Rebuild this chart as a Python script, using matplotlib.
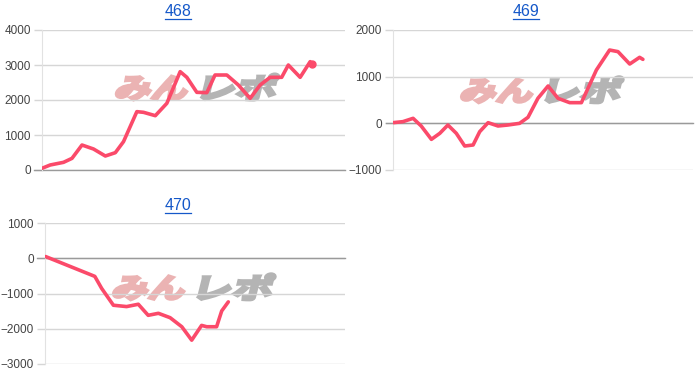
#!/usr/bin/env python3
"""
Slot data charts (468 / 469 / 470) - difference per game, three panels.
"""

import matplotlib
matplotlib.use('Agg')
import matplotlib.pyplot as plt
import matplotlib.transforms as mtransforms
from matplotlib.textpath import TextPath
from matplotlib.patches import PathPatch
from matplotlib.font_manager import FontProperties
from matplotlib.lines import Line2D

plt.rcParams['font.family'] = ['Liberation Sans', 'DejaVu Sans']

# Machine numbers (panel titles)
titles = ['468', '469', '470']

# Progress along the x axis (0..100 = full axis width)
x_468 = [0, 2.7, 7.1, 9.9, 13.2, 17.0, 20.9, 24.2, 26.9, 31.3, 33.5, 37.4, 41.2,
         45.6, 47.8, 51.1, 54.4, 57.1, 61.0, 64.8, 68.7, 72.0, 75.3, 79.1, 81.3,
         85.2, 88.5, 89.0]
y_468 = [48, 143, 219, 333, 714, 600, 400, 495, 810, 1667, 1648, 1552, 1905,
         2810, 2648, 2219, 2210, 2714, 2714, 2429, 2048, 2429, 2648, 2648, 3000,
         2648, 3095, 3040]

x_469 = [0, 3.3, 6.7, 9.4, 12.8, 15.6, 18.3, 21.1, 23.9, 26.7, 28.9, 31.7, 35.0,
         38.3, 42.2, 45.0, 48.3, 51.7, 55.0, 58.9, 62.8, 67.8, 72.2, 75.0, 78.9,
         82.2, 83.3]
y_469 = [14, 36, 107, -57, -343, -214, -36, -214, -486, -464, -179, 14, -57,
         -36, 0, 129, 536, 800, 536, 443, 443, 1143, 1571, 1536, 1271,
         1414, 1371]

x_470 = [0.2, 16.6, 18.9, 22.8, 27.2, 31.1, 34.4, 37.8, 41.7, 45.6, 48.9, 52.2,
         53.9, 57.2, 58.9, 61.1]
y_470 = [48, -514, -857, -1333, -1371, -1305, -1619, -1562, -1686, -1943, -2324,
         -1905, -1943, -1943, -1495, -1238]

yticks_468 = [0, 1000, 2000, 3000, 4000]
yticks_469 = [-1000, 0, 1000, 2000]
yticks_470 = [-3000, -2000, -1000, 0, 1000]

colors = {
    'line': '#fb4a6a',
    'grid': '#d6d6d6',
    'zero': '#9a9a9a',
    'axis': '#e2e2e2',
    'text': '#444444',
    'title': '#1558c9',
    'wm_pink': '#ebb3b3',
    'wm_gray': '#b4b4b4',
}

W, H = 700, 388
fig = plt.figure(figsize=(W / 100, H / 100), dpi=100, facecolor='white')


def px_axes(left, top, right, bottom):
    """Axes from pixel edges (top-left origin)."""
    return fig.add_axes([left / W, 1 - bottom / H, (right - left) / W, (bottom - top) / H])


def watermark(ax, left, bottom):
    """'みんレポ' logo behind the line, skewed like the original."""
    prop = FontProperties(family='Noto Sans CJK JP', weight='bold')
    parts = [('みん', colors['wm_pink'], left, 70, 24),
             ('レポ', colors['wm_gray'], left + 0.285, 72, 26)]
    for txt, col, fx, w_px, h_px in parts:
        path = TextPath((0, 0), txt, size=20, prop=prop)
        ext = path.get_extents()
        tr = (mtransforms.Affine2D()
              .translate(-ext.x0, -ext.y0)
              .scale(w_px / ext.width, h_px / ext.height)
              .skew_deg(14, 0)
              + mtransforms.ScaledTranslation(fx, bottom, ax.transAxes))
        ax.add_patch(PathPatch(path, transform=tr, facecolor=col,
                               edgecolor=col, linewidth=2.2, joinstyle='miter',
                               zorder=0.5, clip_on=False))


def setup_panel(ax, x, y, yticks, wm_pos, end_dot=False):
    ax.set_xlim(0, 100)
    ax.set_ylim(yticks[0], yticks[-1])
    ax.set_yticks(yticks)
    ax.set_xticks([])
    ax.tick_params(axis='y', length=6, width=1, color=colors['grid'], pad=2,
                   labelsize=8.5, labelcolor=colors['text'])
    ax.grid(True, axis='y', color=colors['grid'], linewidth=1)
    ax.set_axisbelow(True)
    for name, spine in ax.spines.items():
        spine.set_visible(name == 'left')
    ax.spines['left'].set_color(colors['axis'])

    # Darker zero baseline (reaches into the tick area)
    ax.plot([-0.025, 1], [0, 0], transform=ax.get_yaxis_transform(),
            color=colors['zero'], linewidth=1, clip_on=False, zorder=1)

    watermark(ax, *wm_pos)

    ax.plot(x, y, color=colors['line'], linewidth=2.6, zorder=3,
            solid_joinstyle='round', solid_capstyle='round')
    if end_dot:
        ax.plot(x[-1:], y[-1:], 'o', color=colors['line'], markersize=5, zorder=3)


ax1 = px_axes(42, 30, 345, 170)
ax2 = px_axes(393, 30, 693, 170)
ax3 = px_axes(45, 223, 345, 364)

setup_panel(ax1, x_468, y_468, yticks_468, (0.24, 0.50), end_dot=True)
setup_panel(ax2, x_469, y_469, yticks_469, (0.223, 0.48))
setup_panel(ax3, x_470, y_470, yticks_470, (0.223, 0.455))

# Link-style titles (blue, underlined)
title_pos = [(178, 12), (526, 12), (178, 206)]
fig.canvas.draw()
renderer = fig.canvas.get_renderer()
for label, (tx, ty) in zip(titles, title_pos):
    t = fig.text(tx / W, 1 - ty / H, label, ha='center', va='center',
                 fontsize=11.5, color=colors['title'])
    bb = t.get_window_extent(renderer=renderer)
    uy = (bb.y0 + 1) / H
    fig.add_artist(Line2D([bb.x0 / W, bb.x1 / W], [uy, uy],
                          color=colors['title'], linewidth=0.9))

fig.savefig('out.png', dpi=100, facecolor='white')
plt.close(fig)
